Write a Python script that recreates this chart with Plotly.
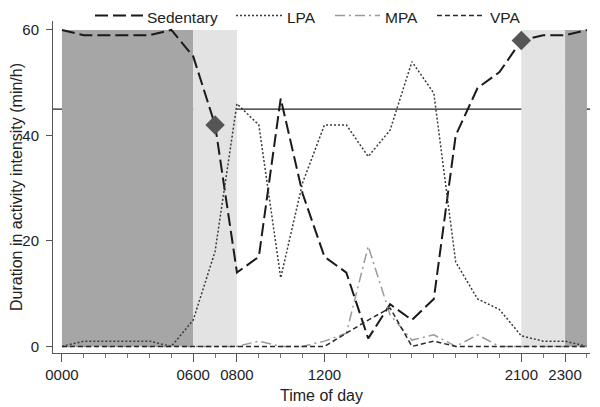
import plotly.graph_objects as go

hours = list(range(25))
sedentary = [60, 59, 59, 59, 59, 60, 55, 42, 14, 17, 47, 29, 17, 14, 1.5, 8, 5, 9, 40, 49, 52, 58, 59, 59, 60]
lpa = [0, 1, 1, 1, 1, 0, 5, 18, 46, 42, 13, 31, 42, 42, 36, 41, 54, 48, 16, 9, 7, 2, 1, 1, 0]
mpa = [0, 0, 0, 0, 0, 0, 0, 0, 0, 1, 0, 0, 1, 2.5, 19, 6, 1.2, 2.2, 0, 2.2, 0, 0, 0, 0, 0]
vpa = [0, 0, 0, 0, 0, 0, 0, 0, 0, 0, 0, 0, 0, 2.5, 5, 7.3, 0, 1, 0, 0, 0, 0, 0, 0, 0]

series_names = ["Sedentary", "LPA", "MPA", "VPA"]

marker_hours = [7, 21]
marker_values = [42, 58]

tick_hours = [0, 6, 8, 12, 21, 23]
tick_labels = ["0000", "0600", "0800", "1200", "2100", "2300"]

night = [(0, 6), (23, 24)]
transition = [(6, 8), (21, 23)]
threshold = 45

FONT = "Liberation Sans, Arial, sans-serif"

styles = {
    "Sedentary": dict(color="#1a1a1a", width=2, dash="13px,5px"),
    "LPA": dict(color="#3a3a3a", width=1.5, dash="2px,2px"),
    "MPA": dict(color="#9a9a9a", width=1.5, dash="10px,4px,2px,4px"),
    "VPA": dict(color="#2a2a2a", width=1.5, dash="5px,3px"),
}
values = {"Sedentary": sedentary, "LPA": lpa, "MPA": mpa, "VPA": vpa}

fig = go.Figure()
for name in series_names:
    fig.add_trace(go.Scatter(x=hours, y=values[name], mode="lines", name=name,
                             line=styles[name], showlegend=False))
fig.add_trace(go.Scatter(x=marker_hours, y=marker_values, mode="markers", showlegend=False,
                         marker=dict(symbol="diamond", size=15, color="#555555")))

shapes = [dict(type="line", xref="paper", x0=0, x1=1, yref="y", y0=threshold, y1=threshold,
               line=dict(color="#222222", width=1.3), layer="below")]
for a, b in night:
    shapes.append(dict(type="rect", xref="x", yref="y", x0=a, x1=b, y0=0, y1=60,
                       fillcolor="#a6a6a6", line=dict(width=0), layer="below"))
for a, b in transition:
    shapes.append(dict(type="rect", xref="x", yref="y", x0=a, x1=b, y0=0, y1=60,
                       fillcolor="#e3e3e3", line=dict(width=0), layer="below"))

# legend row above the plot (line samples + text labels); page-pixel positions
PLOT_L, PLOT_W, PLOT_T, PLOT_H = 53, 537, 21, 332
def px_x(p):
    return (p - PLOT_L) / PLOT_W
def px_y(p):
    return 1 + (PLOT_T - p) / PLOT_H

legend_layout = [(95, 143, 145), (236, 284, 285), (335, 380, 383), (437, 484, 488)]
annotations = []
for name, (s0, s1, tx) in zip(series_names, legend_layout):
    shapes.append(dict(type="line", xref="paper", yref="paper", x0=px_x(s0), x1=px_x(s1),
                       y0=px_y(15.5), y1=px_y(15.5), line=styles[name], layer="above"))
    annotations.append(dict(text=name, xref="paper", yref="paper", x=px_x(tx), y=px_y(17),
                            xanchor="left", yanchor="middle", showarrow=False,
                            font=dict(size=15.5, family=FONT, color="#222222")))

# the page body has an 8px default margin, so the figure is sized 592x399
fig.update_layout(
    width=592, height=399,
    margin=dict(l=45, r=10, t=13, b=54, autoexpand=False),
    paper_bgcolor="white", plot_bgcolor="white",
    font=dict(family=FONT, size=15, color="#222222"),
    shapes=shapes, annotations=annotations,
    showlegend=False,
    xaxis=dict(range=[-0.41, 24.14], tickmode="array", tickvals=tick_hours, ticktext=tick_labels,
               showgrid=False, zeroline=False, showline=True, linecolor="#555555", linewidth=1,
               ticks="outside", ticklen=8, tickcolor="#555555",
               minor=dict(dtick=1, tick0=0, ticks="outside", ticklen=4, tickcolor="#777777", showgrid=False),
               tickfont=dict(size=15), automargin=True,
               title=dict(text="Time of day", font=dict(size=16), standoff=7)),
    yaxis=dict(range=[-1.25, 61.7], tickvals=[0, 20, 40, 60],
               showgrid=False, zeroline=False, showline=True, linecolor="#555555", linewidth=1,
               ticks="outside", ticklen=6, tickcolor="#555555", ticklabelstandoff=4,
               tickfont=dict(size=15), automargin=True,
               title=dict(text="Duration in activity intensity (min/h)", font=dict(size=16), standoff=4)),
)

fig.write_html("out.html", config={"displayModeBar": False})
